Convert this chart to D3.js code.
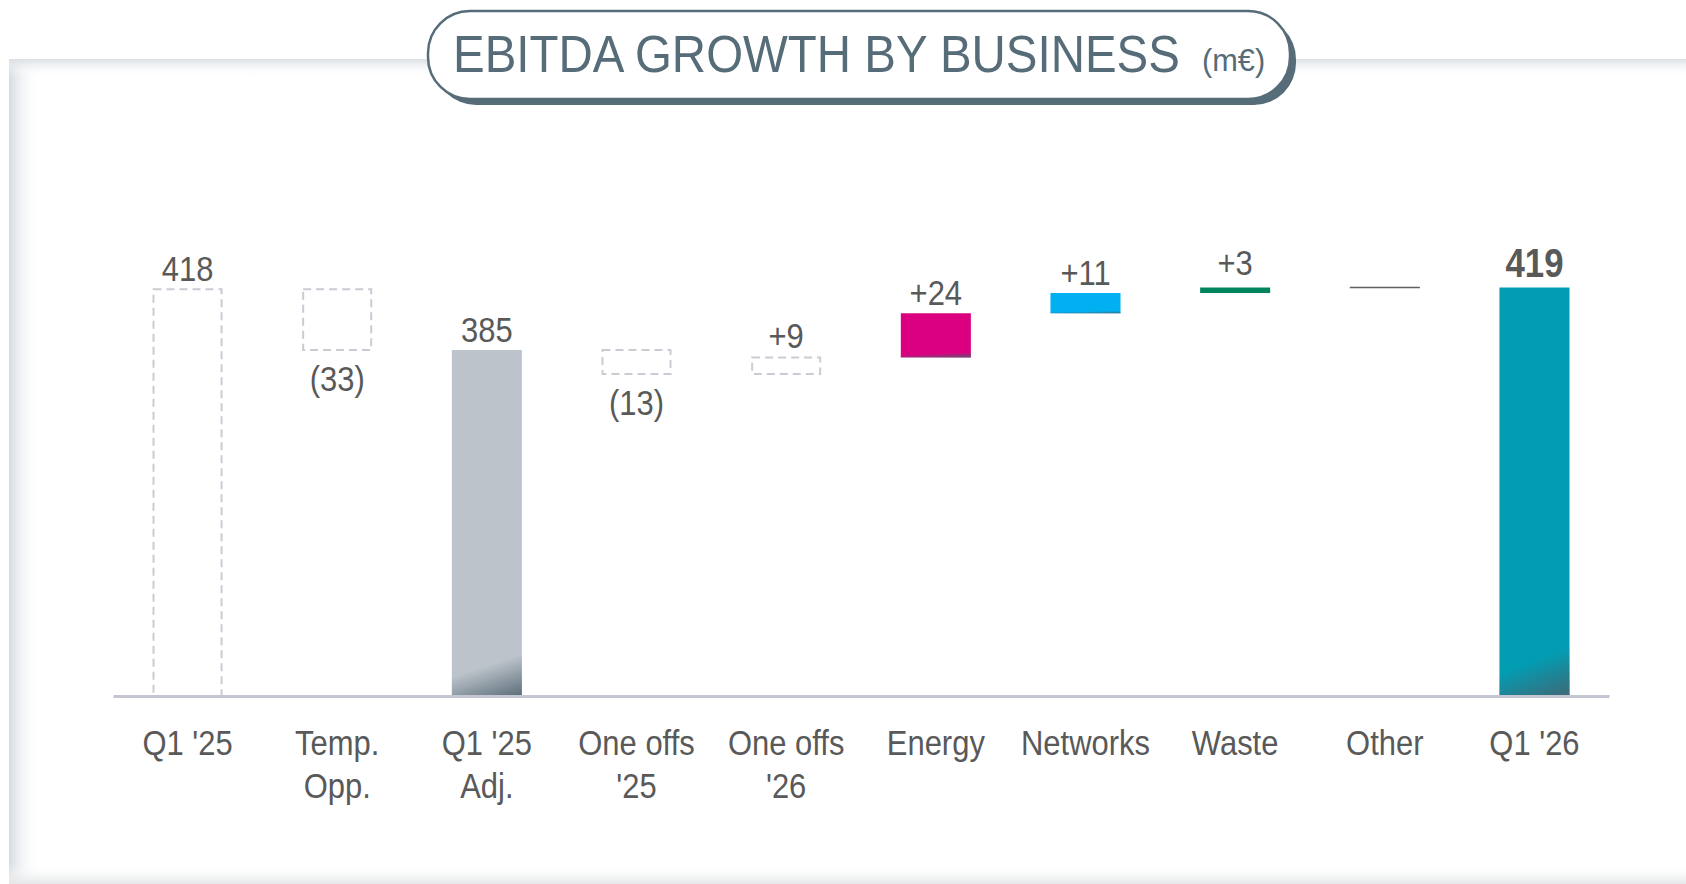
<!DOCTYPE html>
<html>
<head>
<meta charset="utf-8">
<script src="https://cdn.jsdelivr.net/npm/d3@7"></script>
<style>
  html, body { margin: 0; padding: 0; background: #fff; }
  svg { display: block; }
</style>
</head>
<body>
<svg id="chart"></svg>
<script>
'use strict';

// chart data
var categories = ["Q1 '25", 'Temp. Opp.', "Q1 '25 Adj.", "One offs '25", "One offs '26", 'Energy', 'Networks', 'Waste', 'Other', "Q1 '26"];
var categoryLines = [["Q1 '25"], ['Temp.', 'Opp.'], ["Q1 '25", 'Adj.'], ['One offs', "'25"], ['One offs', "'26"], ['Energy'], ['Networks'], ['Waste'], ['Other'], ["Q1 '26"]];
var values = [418, -33, 385, -13, 9, 24, 11, 3, 0, 419];
var isTotal = [true, false, true, false, false, false, false, false, false, true];
var valueLabels = ['418', '(33)', '385', '(13)', '+9', '+24', '+11', '+3', '', '419'];

// styles
var barFills = ['none', 'none', '#bcc3ca', 'none', 'none', '#db0080', '#00b0f0', '#00855c', '#5f5f5f', '#029db3'];
var dashed = [true, true, false, true, true, false, false, false, false, false];
var labelGap = [8, 41, 8, 41, 9, 8, 8, 13, 0, 11];

var W = 1686, H = 884;
// no narrow face installed, so text is squeezed horizontally
var font = '"Liberation Sans Narrow", "Arial Narrow", "Liberation Sans", Arial, sans-serif';
var squeeze = 0.86;
var textColor = '#595959';
var slate = '#566c78';

var svg = d3.select('#chart')
  .attr('width', W)
  .attr('height', H)
  .style('font-family', font);

var defs = svg.append('defs');

// panel edge shading
var gl = defs.append('linearGradient').attr('id', 'edgeLeft').attr('x1', 0).attr('x2', 1).attr('y1', 0).attr('y2', 0);
gl.append('stop').attr('offset', 0).attr('stop-color', '#d6dbe0');
gl.append('stop').attr('offset', 1).attr('stop-color', '#fff').attr('stop-opacity', 0);
var gt = defs.append('linearGradient').attr('id', 'edgeTop').attr('x1', 0).attr('x2', 0).attr('y1', 0).attr('y2', 1);
gt.append('stop').attr('offset', 0).attr('stop-color', '#dce0e4');
gt.append('stop').attr('offset', 1).attr('stop-color', '#fff').attr('stop-opacity', 0);
var gb = defs.append('linearGradient').attr('id', 'edgeBottom').attr('x1', 0).attr('x2', 0).attr('y1', 0).attr('y2', 1);
gb.append('stop').attr('offset', 0).attr('stop-color', '#fff').attr('stop-opacity', 0);
gb.append('stop').attr('offset', 1).attr('stop-color', '#e4e6e8');

// dark corner on the solid bars
var shade = defs.append('linearGradient').attr('id', 'shade')
  .attr('x1', 0).attr('y1', 0).attr('x2', 0.07).attr('y2', 1.061);
shade.append('stop').attr('offset', 0.887).attr('stop-color', '#4a5f6c').attr('stop-opacity', 0);
shade.append('stop').attr('offset', 1).attr('stop-color', '#4a5f6c').attr('stop-opacity', 0.85);

svg.append('rect')
  .attr('x', 9).attr('y', 59).attr('width', W - 9).attr('height', H - 59)
  .attr('fill', '#fff');
svg.append('rect')
  .attr('x', 9).attr('y', 59).attr('width', 30).attr('height', H - 59)
  .attr('fill', 'url(#edgeLeft)');
svg.append('rect')
  .attr('x', 9).attr('y', 59).attr('width', W - 9).attr('height', 18)
  .attr('fill', 'url(#edgeTop)');
svg.append('rect')
  .attr('x', 9).attr('y', H - 20).attr('width', W - 9).attr('height', 20)
  .attr('fill', 'url(#edgeBottom)');

// title badge
var badge = { x: 428, y: 11, w: 862, h: 88, r: 42 };
svg.append('rect')
  .attr('x', badge.x + 6).attr('y', badge.y + 6)
  .attr('width', badge.w).attr('height', badge.h)
  .attr('rx', badge.r).attr('fill', slate);
svg.append('rect')
  .attr('x', badge.x).attr('y', badge.y)
  .attr('width', badge.w).attr('height', badge.h)
  .attr('rx', badge.r).attr('fill', '#fff')
  .attr('stroke', slate).attr('stroke-width', 2.5);

svg.append('text')
  .attr('transform', 'translate(453,72) scale(0.913,1)')
  .attr('fill', slate)
  .style('font-size', '52px')
  .text('EBITDA GROWTH BY BUSINESS');
svg.append('text')
  .attr('transform', 'translate(1202,71) scale(0.96,1)')
  .attr('fill', slate)
  .style('font-size', '32px')
  .text('(m€)');

// scales
var x = d3.scaleBand()
  .domain(categories)
  .range([113, 1609])
  .paddingInner(0.532)
  .paddingOuter(0.264);

var yMin = 197;
var y = d3.scaleLinear()
  .domain([yMin, 419])
  .range([696, 287.5]);

// waterfall extents
var running = 0;
var bars = values.map(function (v, i) {
  var lo, hi;
  if (isTotal[i]) {
    running = v;
    lo = yMin; hi = v;
  } else {
    lo = Math.min(running, running + v);
    hi = Math.max(running, running + v);
    running += v;
  }
  return { cat: categories[i], lines: categoryLines[i], value: v, lo: lo, hi: hi, level: running,
    label: valueLabels[i], fill: barFills[i], dashed: dashed[i], gap: labelGap[i], i: i };
});

function cx(d) { return x(d.cat) + x.bandwidth() / 2; }

var g = svg.append('g');

// dashed (bridging) boxes
g.selectAll('.ghost')
  .data(bars.filter(function (d) { return d.dashed; }))
  .enter().append('rect')
  .attr('class', 'ghost')
  .attr('x', function (d) { return x(d.cat) + 1; })
  .attr('width', x.bandwidth() - 2)
  .attr('y', function (d) { return y(d.hi); })
  .attr('height', function (d) { return y(d.lo) - y(d.hi); })
  .attr('fill', 'none')
  .attr('stroke', '#c8ccd3')
  .attr('stroke-width', 2)
  .attr('stroke-dasharray', '8,5');

var solid = bars.filter(function (d) { return !d.dashed && d.value !== 0; });

g.selectAll('.bar')
  .data(solid)
  .enter().append('rect')
  .attr('class', 'bar')
  .attr('x', function (d) { return x(d.cat); })
  .attr('width', x.bandwidth())
  .attr('y', function (d) { return y(d.hi); })
  .attr('height', function (d) { return y(d.lo) - y(d.hi); })
  .attr('fill', function (d) { return d.fill; });

g.selectAll('.bar-shade')
  .data(solid)
  .enter().append('rect')
  .attr('class', 'bar-shade')
  .attr('x', function (d) { return x(d.cat); })
  .attr('width', x.bandwidth())
  .attr('y', function (d) { return y(d.hi); })
  .attr('height', function (d) { return y(d.lo) - y(d.hi); })
  .attr('fill', 'url(#shade)');

// zero-change line ("Other")
g.selectAll('.flat')
  .data(bars.filter(function (d) { return !d.dashed && d.value === 0; }))
  .enter().append('line')
  .attr('class', 'flat')
  .attr('x1', function (d) { return x(d.cat); })
  .attr('x2', function (d) { return x(d.cat) + x.bandwidth(); })
  .attr('y1', function (d) { return y(d.level); })
  .attr('y2', function (d) { return y(d.level); })
  .attr('stroke', function (d) { return d.fill; })
  .attr('stroke-width', 1.5);

// baseline
svg.append('g')
  .attr('transform', 'translate(0,' + 696 + ')')
  .call(d3.axisBottom(x).tickSize(0).tickFormat(''))
  .call(function (a) {
    a.select('.domain').attr('stroke', '#c4c7d1').attr('stroke-width', 3);
  });

// value labels
var last = categories.length - 1;
g.selectAll('.val')
  .data(bars.filter(function (d) { return d.label !== ''; }))
  .enter().append('text')
  .attr('class', 'val')
  .attr('transform', function (d) {
    var ty = d.value < 0 ? y(d.lo) + d.gap : y(d.hi) - d.gap;
    return 'translate(' + cx(d) + ',' + ty + ') scale(' + (d.i === last ? 0.87 : squeeze) + ',1)';
  })
  .attr('text-anchor', 'middle')
  .attr('fill', textColor)
  .style('font-size', function (d) { return d.i === last ? '40px' : '36px'; })
  .style('font-weight', function (d) { return d.i === last ? 'bold' : 'normal'; })
  .text(function (d) { return d.label; });

// category labels
var cat = svg.selectAll('.cat')
  .data(bars)
  .enter().append('text')
  .attr('class', 'cat')
  .attr('transform', function (d) { return 'translate(' + cx(d) + ',755) scale(' + squeeze + ',1)'; })
  .attr('text-anchor', 'middle')
  .attr('fill', textColor)
  .style('font-size', '36px');
cat.selectAll('tspan')
  .data(function (d) { return d.lines; })
  .enter().append('tspan')
  .attr('x', 0)
  .attr('y', function (d, i) { return i * 43; })
  .text(function (d) { return d; });
</script>
</body>
</html>
